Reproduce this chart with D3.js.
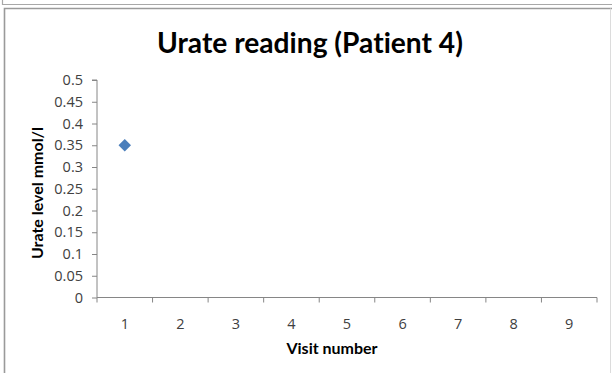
<!DOCTYPE html>
<html>
<head>
<meta charset="utf-8">
<script src="https://cdn.jsdelivr.net/npm/d3@7/dist/d3.min.js"></script>
<style>
  html, body { margin: 0; padding: 0; background: #fff; }
  svg { display: block; }
</style>
</head>
<body>
<svg id="chart" width="612" height="373"></svg>
<script>
// Visit numbers along the x axis and the urate readings recorded so far
const visits = [1, 2, 3, 4, 5, 6, 7, 8, 9];
const urateVisits = [1];
const urateValues = [0.35];
const yTicks = [0, 0.05, 0.1, 0.15, 0.2, 0.25, 0.3, 0.35, 0.4, 0.45, 0.5];

const boldFont = "Lato, 'Open Sans', sans-serif";
const tickFont = "'Open Sans', 'Noto Sans', sans-serif";

const svg = d3.select("#chart");

// page frames
svg.append("path")
  .attr("d", "M2.5,0 V4.5 H612")
  .attr("fill", "none").attr("stroke", "#a8a8a8").attr("stroke-width", 1.2);
svg.append("path")
  .attr("d", "M4.5,373 V8.5 H612")
  .attr("fill", "none").attr("stroke", "#9a9a9a").attr("stroke-width", 1.6);
svg.append("line")
  .attr("x1", 610.5).attr("x2", 610.5).attr("y1", 8.5).attr("y2", 373)
  .attr("stroke", "#dcdcdc").attr("stroke-width", 1);

const plot = { left: 97, right: 597, top: 80, bottom: 297.5 };

const x = d3.scaleBand().domain(visits).range([plot.left, plot.right]);
const y = d3.scaleLinear().domain([0, 0.5]).range([plot.bottom, plot.top]);

// title, sized to span its line
const title = svg.append("text")
  .attr("x", 310).attr("y", 53)
  .attr("text-anchor", "middle")
  .style("font-family", boldFont)
  .style("font-weight", "bold")
  .style("font-size", "28px")
  .style("font-variant-ligatures", "none")
  .attr("fill", "#000")
  .text("Urate reading (Patient 4)");
const tw = title.node().getComputedTextLength();
title.style("font-size", (28 * 306 / tw) + "px");

// y axis
const yAxis = svg.append("g")
  .attr("transform", `translate(${plot.left},0)`)
  .call(d3.axisLeft(y).tickValues(yTicks).tickSize(5).tickPadding(9)
    .tickFormat(d => String(+d.toFixed(2))));
yAxis.select(".domain").attr("stroke", "#868686").attr("d", `M-5,${plot.top}H0V${plot.bottom}`);
yAxis.selectAll(".tick line").attr("stroke", "#868686");
yAxis.selectAll(".tick text")
  .style("font-family", tickFont).style("font-size", "14.5px")
  .attr("fill", "#404040");

// x axis with ticks at band boundaries
const xAxis = svg.append("g")
  .attr("transform", `translate(0,${plot.bottom})`);
xAxis.append("line")
  .attr("x1", plot.left).attr("x2", plot.right)
  .attr("stroke", "#868686");
const bounds = visits.map(v => x(v)).concat([x(visits[visits.length - 1]) + x.bandwidth()]);
xAxis.selectAll(".xt").data(bounds).join("line")
  .attr("x1", d => d).attr("x2", d => d)
  .attr("y1", 0).attr("y2", 5)
  .attr("stroke", "#868686");
xAxis.selectAll(".xl").data(visits).join("text")
  .attr("x", d => x(d) + x.bandwidth() / 2)
  .attr("y", 31)
  .attr("text-anchor", "middle")
  .style("font-family", tickFont).style("font-size", "14.5px")
  .attr("fill", "#404040")
  .text(d => d);

// axis titles
svg.append("text")
  .attr("x", 332).attr("y", 354)
  .attr("text-anchor", "middle")
  .style("font-family", boldFont).style("font-weight", "bold").style("font-size", "16px")
  .attr("fill", "#000")
  .text("Visit number");
svg.append("text")
  .attr("transform", "translate(43,193) rotate(-90)")
  .attr("text-anchor", "middle")
  .style("font-family", boldFont).style("font-weight", "bold").style("font-size", "16px")
  .attr("fill", "#000")
  .text("Urate level mmol/l");

// readings as diamonds
svg.selectAll(".pt").data(urateVisits.map((v, i) => ({ v, val: urateValues[i] })))
  .join("path")
  .attr("d", d3.symbol(d3.symbolSquare, 78))
  .attr("transform", d => `translate(${x(d.v) + x.bandwidth() / 2},${y(d.val)}) rotate(45)`)
  .attr("fill", "#4a7ebb");
</script>
</body>
</html>
